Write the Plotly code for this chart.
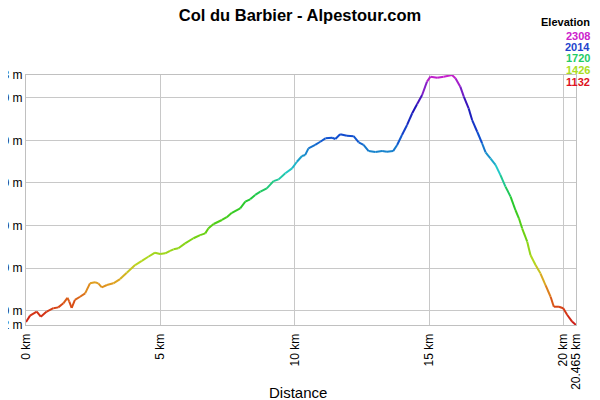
import plotly.graph_objects as go
from plotly.colors import sample_colorscale

title = "Col du Barbier - Alpestour.com"

distance_km = [0.00, 0.15, 0.40, 0.55, 0.77, 1.02, 1.20, 1.39, 1.54, 1.61, 1.70, 1.82, 2.01, 2.20,
               2.38, 2.57, 2.69, 2.82, 3.01, 3.25, 3.50, 3.75, 4.06, 4.31, 4.55, 4.80, 4.99, 5.18,
               5.36, 5.49, 5.67, 5.92, 6.23, 6.48, 6.67, 6.79, 6.98, 7.29, 7.47, 7.66, 7.97, 8.16,
               8.34, 8.53, 8.72, 8.96, 9.21, 9.40, 9.65, 9.90, 10.08, 10.27, 10.39, 10.51, 10.76,
               10.95, 11.14, 11.39, 11.51, 11.69, 11.94, 12.19, 12.38, 12.56, 12.75, 13.00, 13.25,
               13.43, 13.66, 13.81, 13.99, 14.18, 14.37, 14.55, 14.74, 14.92, 15.05, 15.30, 15.54,
               15.85, 15.98, 16.16, 16.29, 16.47, 16.60, 16.79, 16.97, 17.10, 17.28, 17.47, 17.65,
               17.84, 18.03, 18.21, 18.34, 18.46, 18.65, 18.77, 18.96, 19.14, 19.33, 19.52, 19.64,
               19.83, 19.99, 20.14, 20.32, 20.465]

elevation_m = [1146, 1176, 1195, 1171, 1195, 1211, 1215, 1234, 1260, 1242, 1213, 1250, 1265, 1281,
               1328, 1333, 1328, 1309, 1320, 1328, 1348, 1378, 1414, 1434, 1453, 1472, 1466, 1469,
               1481, 1488, 1493, 1516, 1540, 1555, 1563, 1587, 1607, 1626, 1639, 1660, 1681, 1712,
               1723, 1744, 1759, 1775, 1809, 1817, 1846, 1869, 1900, 1927, 1932, 1963, 1979,
               1994, 2010, 2013, 2007, 2029, 2022, 2020, 1991, 1979, 1950, 1946, 1950,
               1947, 1950, 1979, 2026, 2073, 2128, 2170, 2214, 2277, 2300, 2295, 2300,
               2308, 2293, 2253, 2206, 2151, 2096, 2041, 1987, 1944, 1916, 1885, 1838,
               1783, 1736, 1673, 1634, 1587, 1524, 1461, 1414, 1375, 1320, 1265, 1218,
               1218, 1211, 1179, 1148, 1132]

elev_min, elev_max = 1132, 2308
y_tickvals = [1132, 1200, 1400, 1600, 1800, 2000, 2200, 2308]
y_ticktext = ["1132 m", "1200 m", "1400 m", "1600 m", "1800 m", "2000 m", "2200 m", "2308 m"]
x_tickvals = [0, 5, 10, 15, 20, 20.465]
x_ticktext = ["0 km", "5 km", "10 km", "15 km", "20 km", "20.465 km"]

legend_title = "Elevation"
legend_values = [2308, 2014, 1720, 1426, 1132]
legend_colors = ["#cc22cc", "#2244cc", "#22cc66", "#aadd22", "#dd1122"]

colorscale = [
    [0.0, "#cc1515"], [0.08, "#d84a15"], [0.17, "#e0a020"], [0.25, "#b8d820"],
    [0.38, "#60d010"], [0.5, "#20c830"], [0.62, "#20c8c8"], [0.75, "#1050d0"],
    [0.87, "#2010b8"], [0.95, "#8820c8"], [1.0, "#cc20cc"],
]

FONT = "Liberation Sans, Arial, sans-serif"
fig = go.Figure()

for i in range(len(distance_km) - 1):
    mid = (elevation_m[i] + elevation_m[i + 1]) / 2
    t = (mid - elev_min) / (elev_max - elev_min)
    col = sample_colorscale(colorscale, [min(max(t, 0), 1)])[0]
    fig.add_trace(go.Scatter(
        x=distance_km[i:i + 2], y=elevation_m[i:i + 2], mode="lines",
        line=dict(color=col, width=2), hoverinfo="skip", showlegend=False,
    ))

# page body has an 8px margin, so the plot area is placed 8px up/left of the reference pixels
fig.update_layout(
    width=600, height=400,
    margin=dict(l=18, r=32, t=67, b=83),
    paper_bgcolor="white", plot_bgcolor="white",
    font=dict(family=FONT, size=12, color="#000"),
    title=dict(text="<b>" + title + "</b>", x=0.4867, xanchor="center", y=0.983, yanchor="middle",
               font=dict(size=16.5, family=FONT)),
    xaxis=dict(range=[0, 20.465], tickvals=x_tickvals, ticktext=x_ticktext, tickangle=-90,
               showgrid=True, gridcolor="#c8c8c8", gridwidth=1, zeroline=False,
               showline=True, linecolor="#c0c0c0", mirror=True, ticks="",
               ticklabelstandoff=3, tickfont=dict(size=12), automargin=False),
    yaxis=dict(range=[elev_min, elev_max], tickvals=y_tickvals, ticktext=y_ticktext,
               showgrid=True, gridcolor="#c8c8c8", gridwidth=1, zeroline=False,
               showline=True, linecolor="#c0c0c0", mirror=True, ticks="",
               tickfont=dict(size=12), automargin=False),
)

fig.add_annotation(text="Distance", xref="paper", yref="paper", x=0.495, y=-0.268,
                   xanchor="center", yanchor="middle", showarrow=False,
                   font=dict(size=15, family=FONT, color="#000"))

fig.add_annotation(text="<b>" + legend_title + "</b>", xref="paper", yref="paper", x=1.0382, y=1.212,
                   xanchor="right", yanchor="middle", showarrow=False, xshift=-5,
                   font=dict(size=11, family=FONT, color="#000"))
legend_y = [1.156, 1.112, 1.068, 1.02, 0.972]
for v, c, yy in zip(legend_values, legend_colors, legend_y):
    fig.add_annotation(text="<b>%d</b>" % v, xref="paper", yref="paper", x=1.0382, y=yy,
                       xanchor="right", yanchor="middle", showarrow=False, xshift=-5,
                       font=dict(size=11, family=FONT, color=c))

fig.write_html("out.html")
